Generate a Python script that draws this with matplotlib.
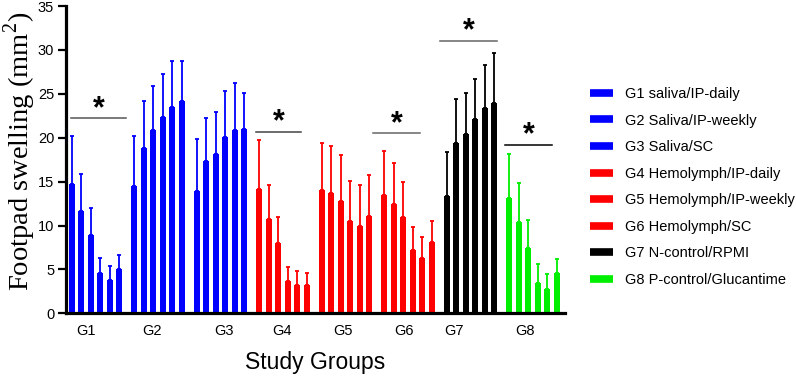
import matplotlib
matplotlib.use("Agg")
import matplotlib.pyplot as plt
from matplotlib.lines import Line2D
import numpy as np

plt.rcParams['font.family'] = ['Liberation Sans', 'DejaVu Sans']
plt.rcParams['mathtext.fontset'] = 'custom'
plt.rcParams['mathtext.rm'] = 'Liberation Serif'

groups = ["G1", "G2", "G3", "G4", "G5", "G6", "G7", "G8"]
legend_labels = ["G1 saliva/IP-daily", "G2 Saliva/IP-weekly", "G3 Saliva/SC",
                 "G4 Hemolymph/IP-daily", "G5 Hemolymph/IP-weekly", "G6 Hemolymph/SC",
                 "G7 N-control/RPMI", "G8 P-control/Glucantime"]
colors = ["#0000FF", "#0000FF", "#0000FF", "#FF0000", "#FF0000", "#FF0000", "#000000", "#00EE00"]

g1_mean = [14.7, 11.6, 8.9, 4.6, 3.8, 5.1]
g1_sd = [5.5, 4.3, 3.1, 1.7, 1.6, 1.5]
g2_mean = [14.5, 18.8, 20.9, 22.4, 23.5, 24.2]
g2_sd = [5.7, 5.4, 5.0, 4.8, 5.2, 4.5]
g3_mean = [13.9, 17.4, 18.2, 20.1, 20.9, 21.0]
g3_sd = [6.0, 4.8, 4.7, 5.2, 5.3, 4.1]
g4_mean = [14.2, 10.7, 8.0, 3.7, 3.2, 3.2]
g4_sd = [5.5, 3.9, 3.0, 1.6, 1.6, 1.4]
g5_mean = [14.0, 13.7, 12.8, 10.5, 9.9, 11.1]
g5_sd = [5.4, 5.4, 5.2, 4.6, 4.7, 4.7]
g6_mean = [13.5, 12.5, 11.0, 7.2, 6.3, 8.1]
g6_sd = [5.0, 4.6, 4.0, 2.6, 2.4, 2.4]
g7_mean = [13.4, 19.4, 20.4, 22.1, 23.4, 23.9]
g7_sd = [5.0, 5.0, 4.7, 4.6, 4.9, 5.8]
g8_mean = [13.1, 10.4, 7.4, 3.5, 2.8, 4.6]
g8_sd = [5.0, 4.4, 3.2, 2.1, 1.7, 1.6]

means = [g1_mean, g2_mean, g3_mean, g4_mean, g5_mean, g6_mean, g7_mean, g8_mean]
sds = [g1_sd, g2_sd, g3_sd, g4_sd, g5_sd, g6_sd, g7_sd, g8_sd]

# significance annotations: group index, bar height level, line start/end offsets
sig_groups = [0, 3, 5, 6, 7]
sig_levels = [22.2, 20.65, 20.5, 31.05, 19.2]
sig_x0 = [-0.05, -0.4, -1.2, -0.75, -0.5]
sig_x1 = [5.7, 4.35, 3.75, 5.35, 4.5]
sig_star = [2.85, 2.05, 1.3, 2.35, 2.1]
sig_colors = ["#555555", "#444444", "#666666", "#666666", "#000000"]
tick_offsets = [1.48, 1.81, 2.85, 2.42, 2.23, 2.05, 0.77, 1.64]

PERIOD = 6.6
W = 0.64

fig = plt.figure(figsize=(7.96, 3.76), dpi=100)
ax = fig.add_axes([66/796, 1 - 313.3/376, (565-66)/796, (313.3-6)/376])

for g in range(8):
    x = g * PERIOD + np.arange(6)
    ax.bar(x, means[g], width=W, color=colors[g], edgecolor='none', zorder=2)
    ax.errorbar(x, means[g], yerr=[np.zeros(6), sds[g]], fmt='none',
                ecolor=colors[g], elinewidth=1.3, capsize=1.6, capthick=1.3, zorder=3)

for gi, lv, a, b, s, c in zip(sig_groups, sig_levels, sig_x0, sig_x1, sig_star, sig_colors):
    base = gi * PERIOD
    ax.plot([base + a, base + b], [lv, lv], color=c, lw=1.1, zorder=3, clip_on=False)
    ax.text(base + s, lv + 0.15, "*", ha='center', va='baseline', fontsize=22,
            fontweight='bold', color='black', zorder=4)

ax.set_xlim(-0.63, 7 * PERIOD + 5 + 0.89)
ax.set_ylim(0, 35)
ax.set_yticks(np.arange(0, 36, 5))
ax.set_xticks([g * PERIOD + o for g, o in enumerate(tick_offsets)])
ax.set_xticklabels(groups)
ax.tick_params(axis='x', length=0, pad=8, labelsize=10.5)
ax.tick_params(axis='y', length=5.5, width=1.6, pad=3, labelsize=10.5)
for s in ['top', 'right']:
    ax.spines[s].set_visible(False)
for s in ['left', 'bottom']:
    ax.spines[s].set_linewidth(2.3)

ax.set_xlabel("Study Groups", fontsize=16.5, labelpad=9)
ax.set_ylabel("Footpad swelling (mm$^2$)", fontsize=20.5, fontfamily='Liberation Serif')
ax.yaxis.set_label_coords(-0.056, 0.528)

handles = [Line2D([0], [0], color=c, lw=5.5, solid_capstyle='butt') for c in colors]
fig.legend(handles, legend_labels, loc='upper left',
           bbox_to_anchor=(590/796, 1 - 87/376), frameon=False,
           fontsize=10.5, handlelength=1.58, handletextpad=0.82,
           labelspacing=0.86, borderpad=0, borderaxespad=0)

fig.savefig("out.png", dpi=100)
